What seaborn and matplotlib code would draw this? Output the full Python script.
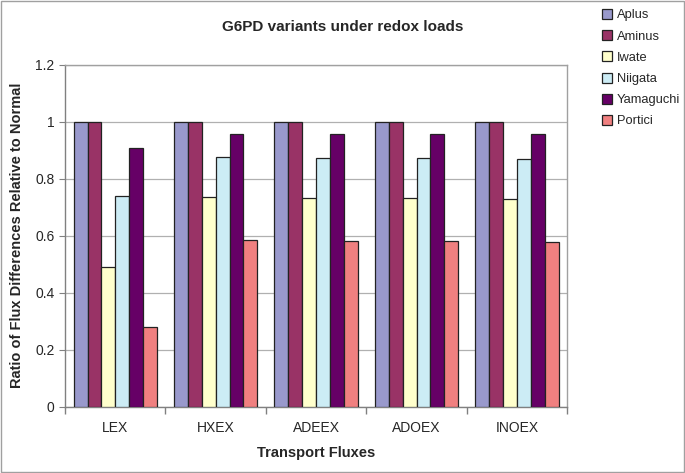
import pandas as pd
import matplotlib.pyplot as plt
import matplotlib.ticker as mticker
from matplotlib.patches import Rectangle
import seaborn as sns

# data
fluxes = ["LEX", "HXEX", "ADEEX", "ADOEX", "INOEX"]
variants = ["Aplus", "Aminus", "Iwate", "Niigata", "Yamaguchi", "Portici"]
aplus = [1.0, 1.0, 1.0, 1.0, 1.0]
aminus = [1.0, 1.0, 1.0, 1.0, 1.0]
iwate = [0.49, 0.737, 0.733, 0.733, 0.73]
niigata = [0.74, 0.876, 0.872, 0.872, 0.871]
yamaguchi = [0.908, 0.958, 0.958, 0.958, 0.958]
portici = [0.28, 0.585, 0.581, 0.58, 0.578]
colors = ["#9999CC", "#993366", "#FFFFCC", "#CCECF5", "#660066", "#F08080"]

series = [aplus, aminus, iwate, niigata, yamaguchi, portici]
rows = []
for v, vals in zip(variants, series):
    for f, val in zip(fluxes, vals):
        rows.append({"flux": f, "variant": v, "value": val})
df = pd.DataFrame(rows)

sns.set_style("white")
plt.rcParams["font.family"] = ["Liberation Sans", "DejaVu Sans"]

fig = plt.figure(figsize=(6.85, 4.73), dpi=100)
ax = fig.add_axes([0.095, 0.14, 0.733, 0.723])

sns.barplot(data=df, x="flux", y="value", hue="variant", hue_order=variants,
            palette=colors, saturation=1, width=0.83, edgecolor="#222222",
            linewidth=0.9, gap=0, errorbar=None, ax=ax, zorder=3)

ax.set_ylim(0, 1.2)
ax.set_xlim(-0.5, 4.5)
ax.yaxis.set_major_locator(mticker.MultipleLocator(0.2))
ax.yaxis.set_major_formatter(mticker.FuncFormatter(lambda v, p: f"{v:g}"))
ax.grid(axis="y", color="#b0b0b0", linewidth=0.9, zorder=0)
ax.set_axisbelow(True)
for s in ax.spines.values():
    s.set_color("#a0a0a0")
    s.set_linewidth(1)
ax.spines["bottom"].set_color("#808080")
ax.spines["left"].set_color("#808080")

# tick marks between categories like the original
ax.set_xticks([i - 0.5 for i in range(6)], minor=True)
ax.tick_params(axis="x", which="minor", length=5, color="#808080", width=1, bottom=True)
ax.tick_params(axis="x", which="major", length=0, labelsize=10, pad=10)
ax.tick_params(axis="y", length=4, color="#808080", left=True, labelsize=10)

ax.set_xlabel("Transport Fluxes", fontsize=10.5, fontweight="bold", labelpad=8)
ax.set_ylabel("Ratio of Flux Differences Relative to Normal", fontsize=10.5,
              fontweight="bold", labelpad=8)
fig.suptitle("G6PD variants under redox loads", x=0.5, y=0.958,
             fontsize=11, fontweight="bold")

handles, labels = ax.get_legend_handles_labels()
ax.get_legend().remove()
fig.legend(handles, labels, loc="upper left", bbox_to_anchor=(0.879, 0.981),
           frameon=False, fontsize=9.3, handlelength=0.8, handleheight=0.8,
           handletextpad=0.35, labelspacing=0.68, borderaxespad=0, borderpad=0)

# thin grey border round the whole figure
fig.patches.append(Rectangle((0.001, 0.002), 0.997, 0.996, transform=fig.transFigure,
                             fill=False, edgecolor="#a0a0a0", linewidth=1))

fig.savefig("out.png", dpi=100)
plt.close()
